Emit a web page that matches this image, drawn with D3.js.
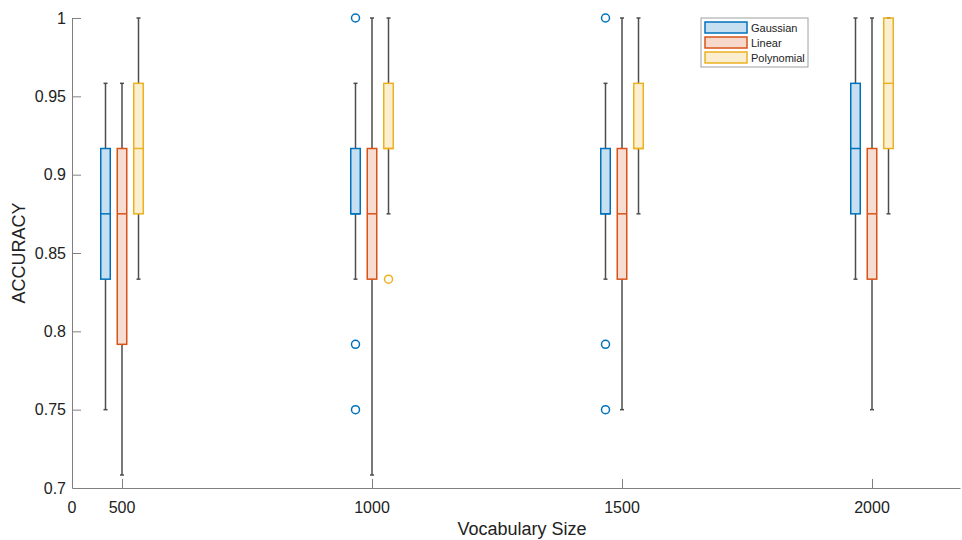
<!DOCTYPE html>
<html lang="en">

<head>
  <meta charset="UTF-8">
  <title>Accuracy vs Vocabulary Size</title>
  <style>
    body { margin: 0; background: #fff; }
    svg { font-family: "Liberation Sans", Arial, sans-serif; }
    .axis path, .axis line { stroke: #808080; }
  </style>
  <script src="https://d3js.org/d3.v7.min.js"></script>
</head>

<body>
  <svg id="chart" width="962" height="540"></svg>
  <script>
    // vocabulary sizes (groups) and kernels (series)
    const categories = [500, 1000, 1500, 2000];
    const series = ["Gaussian", "Linear", "Polynomial"];
    const colors = ["#0072BD", "#D95319", "#EDB120"];

    // box statistics per series, one value per vocabulary size
    const gaussLow = [0.75, 0.8333, 0.8333, 0.8333];
    const gaussQ1 = [0.8333, 0.875, 0.875, 0.875];
    const gaussMed = [0.875, 0.875, 0.875, 0.9167];
    const gaussQ3 = [0.9167, 0.9167, 0.9167, 0.9583];
    const gaussHigh = [0.9583, 0.9583, 0.9583, 1.0];
    const gaussOut = [[], [1.0, 0.7917, 0.75], [1.0, 0.7917, 0.75], []];

    const linLow = [0.7083, 0.7083, 0.75, 0.75];
    const linQ1 = [0.7917, 0.8333, 0.8333, 0.8333];
    const linMed = [0.875, 0.875, 0.875, 0.875];
    const linQ3 = [0.9167, 0.9167, 0.9167, 0.9167];
    const linHigh = [0.9583, 1.0, 1.0, 1.0];
    const linOut = [[], [], [], []];

    const polyLow = [0.8333, 0.875, 0.875, 0.875];
    const polyQ1 = [0.875, 0.9167, 0.9167, 0.9167];
    const polyMed = [0.9167, 0.9167, 0.9167, 0.9583];
    const polyQ3 = [0.9583, 0.9583, 0.9583, 1.0];
    const polyHigh = [1.0, 1.0, 1.0, 1.0];
    const polyOut = [[], [0.8333], [], []];

    const yTicks = [0.7, 0.75, 0.8, 0.85, 0.9, 0.95, 1];
    const xTickLabels = ["0", "500", "1000", "1500", "2000"];

    const stats = [
      [gaussLow, gaussQ1, gaussMed, gaussQ3, gaussHigh, gaussOut],
      [linLow, linQ1, linMed, linQ3, linHigh, linOut],
      [polyLow, polyQ1, polyMed, polyQ3, polyHigh, polyOut]
    ];

    const boxes = [];
    stats.forEach((s, si) => {
      categories.forEach((c, ci) => {
        boxes.push({
          series: si, cat: ci,
          low: s[0][ci], q1: s[1][ci], med: s[2][ci], q3: s[3][ci], high: s[4][ci],
          out: s[5][ci]
        });
      });
    });

    const svg = d3.select("svg#chart");
    const margins = { top: 18, left: 72, right: 2, bottom: 52 };
    const width = +svg.attr("width");
    const height = +svg.attr("height");

    // groups sit at positions 1..4; axis starts a little left of the first one
    const xScale = d3.scaleLinear()
      .domain([0.8, 4.352])
      .range([margins.left, width - margins.right]);
    const yScale = d3.scaleLinear()
      .domain([0.7, 1])
      .range([height - margins.bottom, margins.top]);

    const offset = 0.066;
    const boxW = 0.038;
    const xPos = d => xScale(d.cat + 1 + (d.series - 1) * offset);

    // axes, ticks pointing inward like MATLAB
    const xTickPos = [0.8, 1, 2, 3, 4];
    svg.append("g")
      .attr("class", "x axis")
      .attr("transform", `translate(0,${yScale(0.7)})`)
      .call(d3.axisTop(xScale).tickValues(xTickPos).tickSize(9).tickSizeOuter(0).tickFormat(""))
      .call(g => g.selectAll(".tick line").filter(d => d === 0.8).remove());

    svg.append("g")
      .selectAll("text")
      .data(xTickPos)
      .join("text")
      .attr("x", d => xScale(d))
      .attr("y", yScale(0.7) + 19)
      .attr("dy", "0.35em")
      .attr("text-anchor", "middle")
      .attr("font-size", 16)
      .attr("fill", "#222")
      .text((d, i) => xTickLabels[i]);

    svg.append("g")
      .attr("class", "y axis")
      .attr("transform", `translate(${margins.left},0)`)
      .call(d3.axisRight(yScale).tickValues(yTicks).tickSize(9).tickSizeOuter(0).tickFormat(""))
      .call(g => g.selectAll(".tick line").filter(d => d === 0.7).remove());

    svg.append("g")
      .selectAll("text")
      .data(yTicks)
      .join("text")
      .attr("x", margins.left - 6)
      .attr("y", d => yScale(d))
      .attr("dy", "0.35em")
      .attr("text-anchor", "end")
      .attr("font-size", 16)
      .attr("fill", "#222")
      .text(d => d3.format("")(d));

    // whiskers
    const plot = svg.append("g");
    const whisk = plot.selectAll("g.whisk")
      .data(boxes)
      .join("g")
      .attr("class", "whisk")
      .attr("stroke", "#4d4d4d")
      .attr("stroke-width", 1.5);
    whisk.append("line")
      .attr("x1", xPos).attr("x2", xPos)
      .attr("y1", d => yScale(d.q3)).attr("y2", d => yScale(d.high));
    whisk.append("line")
      .attr("x1", xPos).attr("x2", xPos)
      .attr("y1", d => yScale(d.q1)).attr("y2", d => yScale(d.low));
    whisk.append("line")
      .attr("x1", d => xPos(d) - 2).attr("x2", d => xPos(d) + 2)
      .attr("y1", d => yScale(d.high)).attr("y2", d => yScale(d.high));
    whisk.append("line")
      .attr("x1", d => xPos(d) - 2).attr("x2", d => xPos(d) + 2)
      .attr("y1", d => yScale(d.low)).attr("y2", d => yScale(d.low));

    // boxes
    const bw = xScale(1 + boxW) - xScale(1);
    plot.selectAll("rect.box")
      .data(boxes)
      .join("rect")
      .attr("class", "box")
      .attr("x", d => xPos(d) - bw / 2)
      .attr("width", bw)
      .attr("y", d => yScale(d.q3))
      .attr("height", d => yScale(d.q1) - yScale(d.q3))
      .attr("fill", d => colors[d.series])
      .attr("fill-opacity", d => d.series === 0 ? 0.22 : 0.2)
      .attr("stroke", d => colors[d.series])
      .attr("stroke-width", 1.5);

    plot.selectAll("line.median")
      .data(boxes)
      .join("line")
      .attr("class", "median")
      .attr("x1", d => xPos(d) - bw / 2).attr("x2", d => xPos(d) + bw / 2)
      .attr("y1", d => yScale(d.med)).attr("y2", d => yScale(d.med))
      .attr("stroke", d => colors[d.series])
      .attr("stroke-width", 1.5);

    // outliers
    const outliers = boxes.flatMap(d => d.out.map(v => ({ series: d.series, cat: d.cat, v })));
    plot.selectAll("circle.out")
      .data(outliers)
      .join("circle")
      .attr("class", "out")
      .attr("cx", xPos)
      .attr("cy", d => yScale(d.v))
      .attr("r", 4)
      .attr("fill", "none")
      .attr("stroke", d => colors[d.series])
      .attr("stroke-width", 1.5);

    // axis titles
    svg.append("text")
      .attr("x", xScale(2.6))
      .attr("y", 535)
      .attr("text-anchor", "middle")
      .attr("font-size", 18)
      .attr("fill", "#222")
      .text("Vocabulary Size");

    svg.append("text")
      .attr("transform", `translate(25,${yScale(0.85)}) rotate(-90)`)
      .attr("text-anchor", "middle")
      .attr("font-size", 18)
      .attr("fill", "#222")
      .text("ACCURACY");

    // legend
    const legend = svg.append("g").attr("transform", "translate(701,18)");
    legend.append("rect")
      .attr("width", 107).attr("height", 49)
      .attr("fill", "#fff").attr("stroke", "#a0a0a0");
    const item = legend.selectAll("g.item")
      .data(series)
      .join("g")
      .attr("class", "item")
      .attr("transform", (d, i) => `translate(4,${4 + i * 15})`);
    item.append("rect")
      .attr("width", 42).attr("height", 11)
      .attr("fill", (d, i) => colors[i]).attr("fill-opacity", 0.22)
      .attr("stroke", (d, i) => colors[i]).attr("stroke-width", 1.5);
    item.append("text")
      .attr("x", 46).attr("y", 6)
      .attr("dy", "0.35em")
      .attr("font-size", 11)
      .attr("fill", "#222")
      .text(d => d);
  </script>
</body>

</html>
